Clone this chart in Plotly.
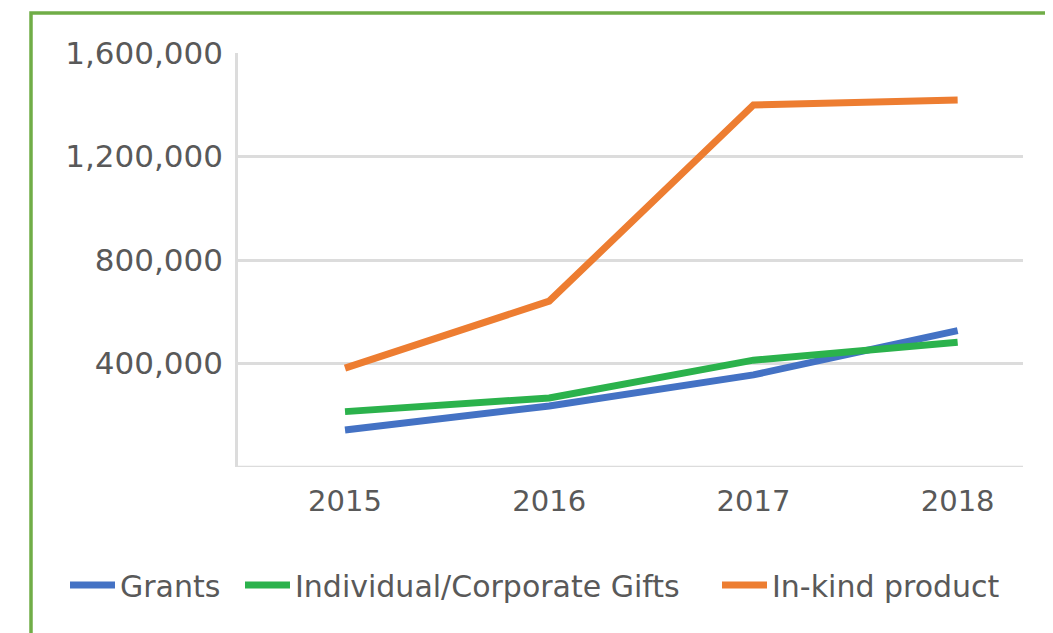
import plotly.graph_objects as go

# data
years = ["2015", "2016", "2017", "2018"]
grants = [143000, 236000, 356000, 527000]
gifts = [214000, 267000, 413000, 482000]
inkind = [382000, 641000, 1399000, 1418000]

y_ticks = [400000, 800000, 1200000, 1600000]
y_labels = ["400,000", "800,000", "1,200,000", "1,600,000"]

series = [
    ("Grants", grants, "#4472c4"),
    ("Individual/Corporate Gifts", gifts, "#2bb24c"),
    ("In-kind product", inkind, "#ed7d31"),
]

# page body adds an 8px margin, so figure coords = screen coords - 8
OFF = 8
L, T, W, H = 238 - OFF, 53 - OFF, 785, 414
legend_x = [70, 245, 722]   # screen x where each legend symbol starts
legend_y = 585

fig = go.Figure()
legends = {}
for i, (name, vals, color) in enumerate(series):
    key = "legend" if i == 0 else f"legend{i + 1}"
    fig.add_trace(go.Scatter(
        x=list(range(len(years))), y=vals, name=name, mode="lines",
        line=dict(color=color, width=7), legend=key,
    ))
    legends[key] = dict(
        orientation="h", xref="container", yref="container",
        x=(legend_x[i] - OFF - 5) / 1053, xanchor="left",
        y=1 - (legend_y - OFF) / 633, yanchor="middle",
        font=dict(size=30, color="#595959"), itemwidth=45,
        bgcolor="rgba(0,0,0,0)",
    )

font_family = "DejaVu Sans, Noto Sans, sans-serif"

fig.update_layout(
    width=1053, height=633,
    paper_bgcolor="white", plot_bgcolor="white",
    margin=dict(l=L, r=1053 - L - W, t=T, b=633 - T - H, autoexpand=False),
    font=dict(family=font_family, color="#595959"),
    showlegend=True,
    xaxis=dict(
        range=[-0.524, 3.32],
        tickmode="array", tickvals=list(range(len(years))), ticktext=years,
        showgrid=False, zeroline=False, showline=False,
        tickfont=dict(size=29, color="#595959"), ticks="",
        ticklabelstandoff=14,
    ),
    yaxis=dict(
        range=[0, 1600000],
        tickmode="array", tickvals=y_ticks, ticktext=y_labels,
        showgrid=True, gridcolor="#dcdcdc", gridwidth=2.5,
        zeroline=False, showline=True, linecolor="#dcdcdc", linewidth=2.5,
        tickfont=dict(size=31, color="#595959"), ticks="",
        ticklabelstandoff=6,
    ),
    shapes=[
        # green frame around the chart
        dict(type="rect", xref="paper", yref="paper",
             x0=(31 - OFF - L) / W, x1=1.2, y0=-0.6, y1=(T + H - 13 + OFF) / H,
             line=dict(color="#70ad47", width=3.5), fillcolor="rgba(0,0,0,0)",
             layer="below"),
        # zero baseline
        dict(type="line", xref="paper", yref="y", x0=0, x1=1, y0=0, y1=0,
             line=dict(color="#dcdcdc", width=2.5), layer="below"),
    ],
    **legends,
)

fig.write_html("out.html")
